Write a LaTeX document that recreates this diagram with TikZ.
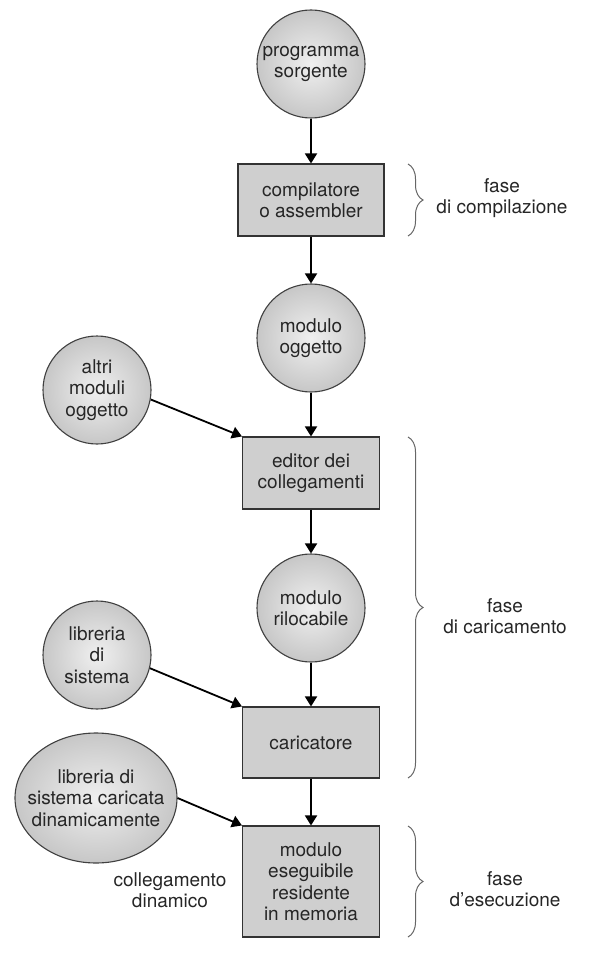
\documentclass[tikz,border=0pt]{standalone}
\usepackage{fontspec}
\setmainfont{TeX Gyre Heros}
\usepackage{tikz}
\usetikzlibrary{shapes,arrows.meta,positioning,decorations.pathreplacing}

\begin{document}
\begin{tikzpicture}[x=1pt,y=-1pt,
        font=\fontsize{19}{21.5}\selectfont, text=black!85,
        modball/.style={circle,draw=black!75,line width=1.1pt,shade,inner color=black!6,outer color=black!22,
            minimum size=108pt,inner sep=0pt,align=center},
        procbox/.style={rectangle,draw=black!80,line width=1.1pt,fill=black!19,
            minimum width=137pt,minimum height=72pt,inner sep=0pt,align=center},
        flow/.style={line width=1.8pt,-{Triangle[length=10pt,width=12pt]}},
        phasebrace/.style={draw=black!60,line width=1pt,decorate,decoration={brace,amplitude=15pt}}]
            \useasboundingbox (0,0) rectangle (611,957);

            % Main column
            \node[modball] (src) at (311,64) {programma\\sorgente};
            \node[procbox,minimum width=146pt] (comp) at (311,200) {compilatore\\o assembler};
            \node[modball] (obj) at (311,338) {modulo\\oggetto};
            \node[procbox] (linker) at (311,473) {editor dei\\collegamenti};
            \node[modball] (reloc) at (311,608) {modulo\\rilocabile};
            \node[procbox,minimum height=71pt] (loader) at (311,742.5) {caricatore};
            \node[procbox,minimum height=111pt] (exe) at (311,881.5) {modulo\\eseguibile\\residente\\in memoria};

            % Side inputs
            \node[modball] (others) at (97,390) {altri\\moduli\\oggetto};
            \node[modball] (syslib) at (97,655) {libreria\\di\\sistema};
            \node[modball,ellipse,minimum width=162pt,minimum height=130pt,inner sep=-13pt] (dynlib) at (96,798)
                {libreria di\\sistema caricata\\dinamicamente};
            \node[align=center] (dynlink) at (170,890) {collegamento\\dinamico};

            % Arrows
            \draw[flow] (src) -- (comp);
            \draw[flow] (comp) -- (obj);
            \draw[flow] (obj) -- (linker);
            \draw[flow] (linker) -- (reloc);
            \draw[flow] (reloc) -- (loader);
            \draw[flow] (loader) -- (exe);
            \draw[flow] (others.-10) -- (linker.north west);
            \draw[flow] (syslib.-14) -- (loader.north west);
            \draw[flow] (dynlib.east) -- (exe.north west);

            % Phases
            \draw[phasebrace] (408,164) -- (408,236);
            \node[align=center] (compphase) at (502,198) {fase\\di compilazione};
            \draw[phasebrace] (408,437) -- (408,778);
            \node[align=center] (loadphase) at (505,616) {fase\\di caricamento};
            \draw[phasebrace] (408,826) -- (408,937);
            \node[align=center] (execphase) at (505,889) {fase\\d'esecuzione};
        \end{tikzpicture}
\end{document}
